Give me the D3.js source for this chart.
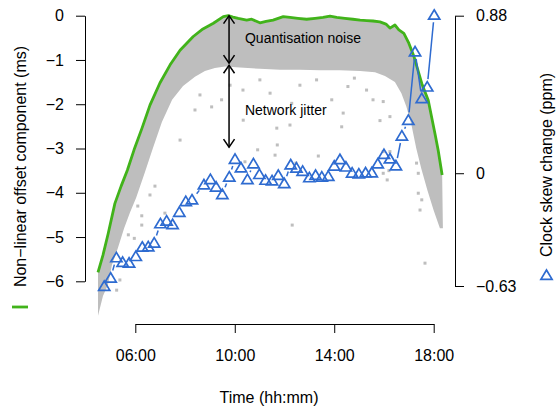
<!DOCTYPE html>
<html><head><meta charset="utf-8">
<script src="https://cdn.jsdelivr.net/npm/d3@7"></script>
<style>body{margin:0;background:#fff} svg{display:block} text{font-family:"Liberation Sans",Arial,Helvetica,sans-serif}</style>
</head><body><svg id="c" width="559" height="409"></svg>
<script>
// ---- data ----
const xTickValues = [6, 10, 14, 18];
const xTickLabels = ["06:00", "10:00", "14:00", "18:00"];
const yLeftTicks = [0, -1, -2, -3, -4, -5, -6];
const yLeftLabels = ["0", "\u22121", "\u22122", "\u22123", "\u22124", "\u22125", "\u22126"];
const yRightTicks = [0.88, 0, -0.63];
const yRightLabels = ["0.88", "0", "\u22120.63"];

// minimum (lower envelope) offset line, time in hours, value in ms
const greenTime = [4.50,4.70,4.91,5.18,5.43,5.68,5.95,6.27,6.59,6.99,7.40,7.80,8.33,8.72,9.14,9.54,9.74,9.93,10.14,10.48,10.68,11.01,11.26,11.54,11.95,12.22,12.54,12.89,13.23,13.55,13.83,14.10,14.43,14.75,15.04,15.31,15.56,15.84,16.08,16.24,16.44,16.60,16.80,17.00,17.21,17.52,17.78,18.05,18.18,18.34];
const greenValue = [-5.80,-5.41,-4.92,-4.24,-3.85,-3.49,-3.03,-2.54,-2.02,-1.52,-1.11,-0.78,-0.47,-0.30,-0.17,-0.02,0.00,-0.03,-0.06,-0.10,-0.08,-0.16,-0.13,-0.10,-0.02,-0.04,-0.06,-0.08,-0.06,-0.04,-0.01,-0.04,-0.06,-0.08,-0.10,-0.11,-0.12,-0.14,-0.19,-0.28,-0.21,-0.32,-0.40,-0.62,-0.93,-1.53,-1.91,-2.66,-3.04,-3.60];

// lower edge of the dense cloud of offset samples
const bandLowTime = [4.50,4.70,4.90,5.06,5.30,5.55,5.79,6.03,6.39,6.71,7.07,7.48,7.92,8.40,8.80,9.20,9.61,10.21,11.01,11.82,12.62,13.43,14.23,15.04,15.64,16.04,16.44,16.70,16.90,17.10,17.30,17.50,17.75,18.00,18.25,18.37];
const bandLowValue = [-6.78,-6.33,-6.08,-5.63,-5.25,-4.80,-4.44,-4.12,-3.53,-2.99,-2.40,-1.90,-1.59,-1.38,-1.25,-1.18,-1.15,-1.17,-1.20,-1.22,-1.22,-1.23,-1.23,-1.25,-1.28,-1.36,-1.50,-1.75,-2.05,-2.45,-3.00,-3.45,-3.95,-4.40,-4.80,-4.80];

// isolated offset samples below the cloud
const outlierTime = [10.33,9.47,9.07,11.42,12.29,13.90,14.55,11.69,10.34,7.80,13.29,14.36,15.30,15.56,10.92,11.71,11.62,10.41,12.31,12.46,13.36,15.97,16.13,16.20,16.24,6.10,6.26,6.26,5.72,5.96,7.19,5.38,5.25,15.97,16.24,17.38,17.52,17.45,17.31,17.65,15.97,12.22,14.30,15.84,17.38,6.79,6.59,8.40,9.81,12.62,14.81,11.01,8.60];
const outlierValue = [-1.68,-1.90,-2.06,-1.75,-1.98,-1.90,-1.60,-2.54,-2.36,-2.81,-1.45,-2.20,-1.68,-1.90,-3.03,-2.92,-3.15,-3.30,-4.73,-3.33,-3.17,-3.56,-3.71,-3.50,-3.07,-4.30,-4.52,-4.73,-4.95,-5.03,-4.46,-5.97,-6.20,-1.94,-2.28,-4.01,-4.16,-4.39,-3.33,-5.59,-3.07,-2.47,-2.51,-2.37,-3.56,-3.85,-4.05,-2.13,-1.57,-1.57,-1.41,-1.45,-1.79];

// clock skew change, ppm
const skewTime = [4.75,5.01,5.24,5.49,5.75,6.02,6.28,6.52,6.76,7.01,7.26,7.50,7.77,8.03,8.28,8.76,9.02,9.25,9.50,9.78,10.01,10.25,10.51,10.75,10.99,11.24,11.50,11.75,11.99,12.25,12.48,12.73,13.00,13.25,13.50,13.76,14.00,14.23,14.47,14.72,14.99,15.26,15.51,15.75,16.00,16.24,16.48,16.72,16.98,17.25,17.52,17.74,18.02];
const skewValue = [-0.630,-0.584,-0.470,-0.496,-0.500,-0.463,-0.411,-0.409,-0.388,-0.280,-0.265,-0.285,-0.216,-0.156,-0.147,-0.063,-0.033,-0.075,-0.117,-0.019,0.080,0.032,-0.033,0.055,-0.005,-0.037,-0.040,-0.010,-0.056,0.049,0.031,0.013,-0.023,-0.010,-0.019,-0.015,0.042,0.078,0.037,0.003,-0.002,0.004,0.004,0.054,0.107,0.082,0.043,0.210,0.298,0.680,0.419,0.484,0.885];

// annotations
const annotTime = 9.77;
const quantRange = [0, -1.07];
const jitterRange = [-1.12, -2.97];
const annotLabels = ["Quantisation noise", "Network jitter"];
const annotLabelTime = 10.41;
const annotLabelValue = [-0.50, -2.13];

// ---- drawing ----
const GREEN = "#41b31a", BLUE = "#2e6bd0", GREY = "#bebebe";
const svg = d3.select("#c");
const x = d3.scaleLinear().domain([6, 18]).range([135.3, 433.7]);
const yL = d3.scaleLinear().domain([-6, 0]).range([281.3, 15.7]);
const yR = d3.scaleLinear().domain([-0.63, 0.88]).range([286, 15.7]);

// cloud band
const upper = greenTime.map((t, i) => [x(t), yL(greenValue[i])]);
const lower = bandLowTime.map((t, i) => [x(t), yL(bandLowValue[i])]).reverse();
svg.append("path").attr("d", d3.line()(upper.concat(lower)) + "Z").attr("fill", GREY);

svg.append("g").selectAll("rect").data(outlierTime.map((t, i) => [t, outlierValue[i]]))
  .join("rect").attr("x", d => x(d[0]) - 1.5).attr("y", d => yL(d[1]) - 1.5)
  .attr("width", 3).attr("height", 3).attr("fill", GREY);

// green minimum line
svg.append("path").attr("d", d3.line().x((t) => x(t)).y((t, i) => yL(greenValue[i]))(greenTime))
  .attr("fill", "none").attr("stroke", GREEN).attr("stroke-width", 2.8).attr("stroke-linejoin", "round");

// skew: type "b" (points + gapped lines)
const skewPts = skewTime.map((t, i) => [x(t), yR(skewValue[i])]);
const gap = 7.5;
const segs = [];
for (let i = 0; i < skewPts.length - 1; i++) {
  const [x1, y1] = skewPts[i], [x2, y2] = skewPts[i + 1];
  const dx = x2 - x1, dy = y2 - y1, d = Math.hypot(dx, dy);
  if (d > 2 * gap + 1) {
    const ux = dx / d, uy = dy / d;
    segs.push([[x1 + ux * gap, y1 + uy * gap], [x2 - ux * gap, y2 - uy * gap]]);
  }
}
svg.append("g").selectAll("path").data(segs).join("path")
  .attr("d", s => d3.line()(s)).attr("stroke", BLUE).attr("stroke-width", 1.5).attr("fill", "none");
const tri = (cx, cy) => `M${cx},${cy - 5}L${cx + 5.6},${cy + 4.4}L${cx - 5.6},${cy + 4.4}Z`;
svg.append("g").selectAll("path").data(skewPts).join("path")
  .attr("d", p => tri(p[0], p[1])).attr("fill", "none").attr("stroke", BLUE).attr("stroke-width", 1.7)
  .attr("stroke-linejoin", "miter");

// annotation arrows
function dblArrow(xp, ya, yb) {
  const g = svg.append("g").attr("stroke", "#000").attr("stroke-width", 1.5).attr("fill", "none");
  g.append("path").attr("d", `M${xp},${ya}V${yb}`);
  g.append("path").attr("d", `M${xp - 5.5},${ya + 8}L${xp},${ya}L${xp + 5.5},${ya + 8}`);
  g.append("path").attr("d", `M${xp - 5.5},${yb - 8}L${xp},${yb}L${xp + 5.5},${yb - 8}`);
}
dblArrow(x(annotTime), yL(quantRange[0]), yL(quantRange[1]));
dblArrow(x(annotTime), yL(jitterRange[0]), yL(jitterRange[1]));
annotLabels.forEach((s, i) => {
  svg.append("text").attr("x", x(annotLabelTime)).attr("y", yL(annotLabelValue[i])).attr("dy", "0.35em")
    .attr("font-size", 14).attr("fill", "#000").text(s);
});

// axes
function styleAxis(g) {
  g.attr("font-size", 16).attr("font-family", null);
  g.selectAll("line, path").attr("stroke", "#000").attr("stroke-width", 1);
}
svg.append("g").attr("transform", "translate(85,0)")
  .call(d3.axisLeft(yL).tickValues(yLeftTicks).tickFormat((d, i) => yLeftLabels[i]).tickSize(9).tickPadding(12).tickSizeOuter(0))
  .call(styleAxis);
svg.append("g").attr("transform", "translate(455,0)")
  .call(d3.axisRight(yR).tickValues(yRightTicks).tickFormat((d, i) => yRightLabels[i]).tickSize(9).tickPadding(12).tickSizeOuter(0))
  .call(styleAxis);
svg.append("g").attr("transform", "translate(0,324)")
  .call(d3.axisBottom(x).tickValues(xTickValues).tickFormat((d, i) => xTickLabels[i]).tickSize(9).tickPadding(17).tickSizeOuter(0))
  .call(styleAxis);

// titles
svg.append("text").attr("transform", "translate(20,166.5) rotate(-90)").attr("text-anchor", "middle")
  .attr("dy", "0.35em").attr("font-size", 16).text("Non\u2212linear offset component (ms)");
svg.append("line").attr("x1", 12).attr("x2", 28).attr("y1", 307).attr("y2", 307)
  .attr("stroke", GREEN).attr("stroke-width", 2.8);
svg.append("text").attr("transform", "translate(546.5,165) rotate(-90)").attr("text-anchor", "middle")
  .attr("dy", "0.35em").attr("font-size", 16).text("Clock skew change (ppm)");
svg.append("path").attr("d", tri(546.5, 275)).attr("fill", "none").attr("stroke", BLUE).attr("stroke-width", 1.7);
svg.append("text").attr("x", 269).attr("y", 397).attr("text-anchor", "middle").attr("dy", "0.35em")
  .attr("font-size", 16).text("Time (hh:mm)");
</script></body></html>
